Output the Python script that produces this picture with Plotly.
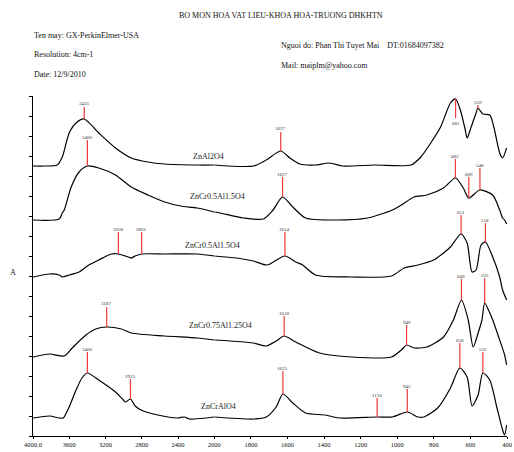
import plotly.graph_objects as go

# ---------------- data (wavenumber cm-1, absorbance a.u.) ----------------
names = ["ZnAl2O4", "ZnCr0.5Al1.5O4", "ZnCr0.5Al1.5O4", "ZnCr0.75Al1.25O4", "ZnCrAlO4"]

wn1 = [4000, 3873, 3732, 3677, 3601, 3525, 3435, 3275, 3090, 2916, 2732, 2547, 2188, 2000,
       1786, 1716, 1637, 1587, 1533, 1447, 1371, 1301, 1124, 925, 871, 817, 763, 709, 681,
       655, 628, 618, 596, 569, 559, 532, 494, 472, 440, 424, 402]
a1 = [270, 270, 271, 279, 303, 313, 317, 303, 288, 278, 274, 272, 271, 271,
      270, 276, 285, 278, 272, 271, 273, 270, 271, 271, 279, 293, 309, 333, 337,
      326, 306, 298, 309, 323, 328, 322, 321, 309, 283, 278, 288]

wn2 = [4000, 3710, 3677, 3655, 3579, 3492, 3400, 3275, 3090, 2916, 2732, 2547, 2373, 2188, 2000,
       1969, 1840, 1732, 1679, 1627, 1571, 1501, 1339, 1162, 1027, 978, 908, 838, 747, 682,
       639, 609, 548, 478, 440, 424, 413, 402]
a2 = [216, 217, 223, 226, 249, 264, 270, 268, 261, 249, 241, 234, 230, 228, 224,
      223, 218, 217, 226, 239, 229, 218, 216, 218, 226, 231, 239, 241, 248, 258,
      248, 238, 246, 241, 226, 218, 216, 212]

wn3 = [4000, 3818, 3710, 3677, 3601, 3492, 3384, 3275, 3134, 3058, 2949, 2916, 2873, 2801, 2547, 2188, 2000,
       1878, 1786, 1716, 1695, 1614, 1555, 1517, 1447, 1248, 1032, 962, 887, 801, 747, 709,
       651, 618, 591, 569, 542, 518, 478, 440, 424, 402]
a3 = [159, 162, 161, 159, 161, 164, 171, 176, 182, 182, 179, 178, 180, 182, 182, 182, 180,
      178, 175, 171, 172, 180, 174, 171, 161, 159, 160, 168, 171, 176, 183, 189,
      202, 193, 164, 166, 191, 194, 179, 159, 146, 136]

wn4 = [4000, 3818, 3655, 3568, 3416, 3308, 3187, 3025, 2916, 2547, 2188, 2000,
       1915, 1786, 1716, 1662, 1618, 1555, 1425, 1248, 1032, 978, 949, 908, 838, 747, 693,
       649, 612, 585, 558, 537, 522, 494, 478, 440, 413, 402]
a4 = [79, 82, 80, 88, 101, 107, 109, 107, 103, 100, 98, 96,
      95, 93, 90, 95, 100, 94, 83, 79, 79, 86, 91, 88, 89, 99, 116,
      136, 116, 89, 103, 116, 133, 123, 116, 96, 81, 71]

wn5 = [4000, 3818, 3710, 3666, 3601, 3525, 3460, 3400, 3275, 3090, 3003, 2981, 2925, 2873, 2808,
       2623, 2405, 2329, 2275, 2000,
       1786, 1716, 1662, 1625, 1571, 1501, 1393, 1318, 1110, 1027, 945, 887, 855, 779, 709,
       658, 618, 591, 558, 532, 494, 456, 424, 413, 402]
a5 = [18, 20, 18, 18, 29, 46, 58, 63, 56, 44, 36, 34, 37, 30, 26,
      21, 18, 19, 17, 19,
      17, 19, 29, 42, 33, 23, 21, 18, 19, 19, 24, 19, 19, 28, 48,
      68, 59, 30, 41, 63, 56, 29, 6, 1, 11]

spectra = [(wn1, a1), (wn2, a2), (wn3, a3), (wn4, a4), (wn5, a5)]

# peaks: wavenumber, absorbance at peak, end of marker line, label position
peak_wn = [[3435, 1637, 681, 559],
           [3400, 1627, 682, 609, 548],
           [3058, 2801, 1614, 651, 518],
           [3187, 1618, 949, 649, 522],
           [3400, 2925, 1625, 1110, 945, 658, 532]]
peak_base = [[317, 285, 337, 328],
             [270, 239, 258, 238, 246],
             [182, 182, 180, 202, 194],
             [109, 100, 91, 136, 133],
             [63, 37, 42, 19, 24, 68, 63]]
peak_end = [[329, 304, 318, 331],
            [296, 259, 277, 259, 268],
            [204, 204, 204, 221, 213],
            [129, 120, 111, 157, 158],
            [84, 57, 65, 38, 47, 93, 84]]
peak_lab = [[333, 308, 313, 334],
            [299, 262, 280, 262, 271],
            [207, 207, 207, 224, 216],
            [133, 123, 114, 160, 161],
            [87, 60, 68, 41, 50, 96, 87]]

# curve label positions (wavenumber, absorbance)
name_wn = [2068, 1985, 2025, 1964, 1975]
name_a = [280, 240, 191, 111, 30]

left_ticks = [4000, 3600, 3200, 2800, 2400, 2000]
left_ticktext = ["4000.0", "3600", "3200", "2800", "2400", "2000"]
right_ticks = [1800, 1600, 1400, 1200, 1000, 800, 600, 400]
right_ticktext = ["1800", "1600", "1400", "1200", "1000", "800", "600", "400"]

# ---------------- figure ----------------
W, H = 514, 452
ML, MR, MT, MB = 33, 0, 96, 16
split = 184 / (W - ML - MR)
SERIF = "Liberation Serif, Times New Roman, serif"

fig = go.Figure()
for wn, a in spectra:
    lx = [w for w in wn if w >= 2000]
    ly = [v for w, v in zip(wn, a) if w >= 2000]
    rx = [w for w in wn if w <= 2000]
    ry = [v for w, v in zip(wn, a) if w <= 2000]
    fig.add_trace(go.Scatter(x=lx, y=ly, mode="lines", xaxis="x", yaxis="y",
                             line=dict(color="black", width=1.2, shape="spline", smoothing=0.7),
                             showlegend=False, hoverinfo="skip"))
    fig.add_trace(go.Scatter(x=rx, y=ry, mode="lines", xaxis="x2", yaxis="y",
                             line=dict(color="black", width=1.2, shape="spline", smoothing=0.7),
                             showlegend=False, hoverinfo="skip"))

shapes = []
annotations = []
for k in range(len(peak_wn)):
    for w, b, e, l in zip(peak_wn[k], peak_base[k], peak_end[k], peak_lab[k]):
        xr = "x" if w > 2000 else "x2"
        shapes.append(dict(type="line", xref=xr, yref="y", x0=w, x1=w, y0=b, y1=e,
                           line=dict(color="#f23a3a", width=1.2)))
        annotations.append(dict(xref=xr, yref="y", x=w, y=l, text=str(w), showarrow=False,
                                font=dict(family=SERIF, size=5, color="#333333")))
    xr = "x" if name_wn[k] >= 2000 else "x2"
    annotations.append(dict(xref=xr, yref="y", x=name_wn[k], y=name_a[k], text=names[k],
                            showarrow=False, font=dict(family=SERIF, size=8, color="#222222")))

def px(x, y):
    return (x - ML) / (W - ML - MR), (H - MB - y) / (H - MT - MB)

header = [
    ("BO MON HOA VAT LIEU-KHOA HOA-TRUONG DHKHTN", 285, 16, "center"),
    ("Ten may: GX-PerkinElmer-USA", 32, 36, "left"),
    ("Resolution: 4cm-1", 32, 55, "left"),
    ("Date: 12/9/2010", 32, 74, "left"),
    ("Nguoi do: Phan Thi Tuyet Mai&nbsp;&nbsp;&nbsp;&nbsp;DT:01684097382", 283, 45, "left"),
    ("Mail: maiplm@yahoo.com", 283, 65, "left"),
    ("A", 13, 272, "center"),
]
for t, x, y, al in header:
    xp, yp = px(x, y)
    annotations.append(dict(xref="paper", yref="paper", x=xp, y=yp, text=t, showarrow=False,
                            xanchor=al, yanchor="middle",
                            font=dict(family=SERIF, size=8, color="#111111")))

axis_common = dict(showline=True, linecolor="black", linewidth=1, ticks="outside",
                   ticklen=2, tickcolor="black", showgrid=False, zeroline=False,
                   tickfont=dict(family=SERIF, size=6.5, color="#111111"), fixedrange=True)

fig.update_layout(
    width=W, height=H,
    margin=dict(l=ML, r=MR, t=MT, b=MB, pad=0),
    paper_bgcolor="white", plot_bgcolor="white",
    xaxis=dict(domain=[0, split], range=[4000, 2000], anchor="y",
               tickmode="array", tickvals=left_ticks, ticktext=left_ticktext, **axis_common),
    xaxis2=dict(domain=[split, 1], range=[2000, 400], anchor="y",
                tickmode="array", tickvals=right_ticks, ticktext=right_ticktext, **axis_common),
    yaxis=dict(range=[0, 340], dtick=20, tick0=0, showticklabels=False,
               showline=True, linecolor="black", linewidth=1, ticks="outside", ticklen=3,
               tickcolor="black", showgrid=False, zeroline=False, fixedrange=True),
    shapes=shapes,
    annotations=annotations,
    showlegend=False,
)

fig.write_html("out.html")
